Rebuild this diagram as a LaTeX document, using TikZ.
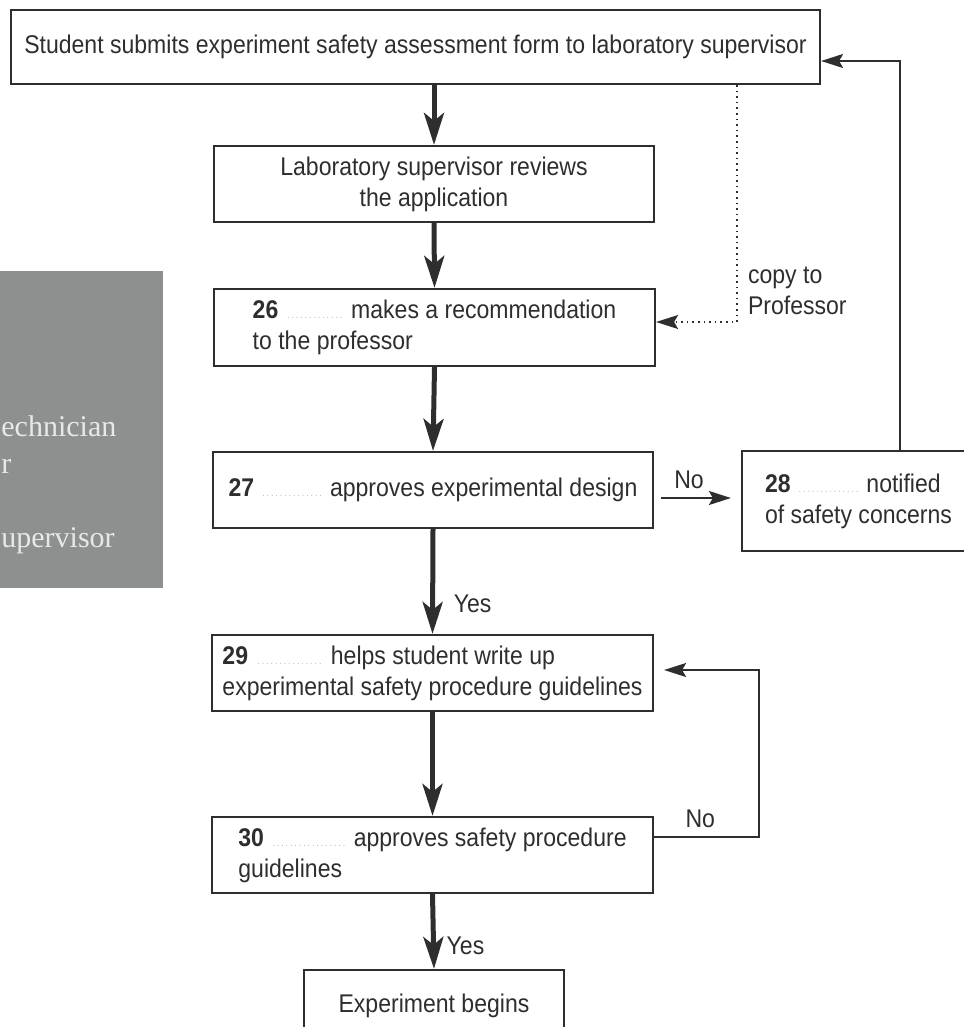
\documentclass[tikz,border=0pt]{standalone}
\usepackage{fontspec}
\setmainfont{Liberation Sans}[FakeStretch=0.9]
\newfontfamily\cutserif{Liberation Serif}
\usepackage{tikz}
\usetikzlibrary{arrows.meta, calc}
\definecolor{ink}{HTML}{2E2E2E}
\definecolor{panel}{HTML}{8E9090}
\definecolor{panelink}{HTML}{E8E8E8}
\definecolor{dotgray}{HTML}{B5B5B5}
\newcommand{\blank}[1]{\textcolor{dotgray}{\makebox[#1]{\tiny\dotfill}}}

\begin{document}
\begin{tikzpicture}[x=0.5pt, y=-0.5pt, ink,
    every node/.style={font=\fontsize{12.8}{15.5}\selectfont, text=ink},
    box/.style={draw, line width=1.1pt, minimum height=38pt, inner ysep=0pt},
    down/.style={line width=2.5pt, -{Stealth[length=16pt, width=10pt, inset=4pt]}},
    side/.style={line width=1pt, -{Stealth[length=11pt, width=7pt, inset=2pt]}},
    cutlabel/.style={anchor=base west, inner sep=0pt, text=panelink, font=\cutserif\fontsize{15}{18}\selectfont}]
    \useasboundingbox (0,0) rectangle (963,1027);

    \fill[panel] (0,271) rectangle (163,588);
    \node[cutlabel] (tech) at (1,436) {echnician};
    \node[cutlabel] (orr) at (1,473) {r};
    \node[cutlabel] (sup) at (1,547) {upervisor};

    \node[box, minimum width=404.5pt, minimum height=37pt] at (415.5,47) (submit) {Student submits experiment safety assessment form to laboratory supervisor};
    \node[box, minimum width=220pt, align=center] at (434,184) (review) {Laboratory supervisor reviews\\the application};
    \node[box, minimum width=220.5pt, minimum height=38.5pt, align=left] at (434.5,327.5) (recommend) {\textbf{26} \blank{30pt} makes a recommendation\\to the professor};
    \node[box, minimum width=220pt, align=left] at (433,490) (design) {\textbf{27} \blank{31.5pt} approves experimental design};
    \node[box, minimum width=116.5pt, minimum height=50pt, align=left] at (858.5,501) (notify) {\textbf{28} \blank{31.5pt} notified\\of safety concerns};
    \node[box, minimum width=220.5pt, align=left] at (432.5,673) (guide) {\textbf{29} \blank{35pt} helps student write up\\experimental safety procedure guidelines};
    \node[box, minimum width=220.5pt, align=left] at (432.5,855) (approve) {\textbf{30} \blank{38.5pt} approves safety procedure\\guidelines};
    \node[box, minimum width=130pt, minimum height=36pt] at (434,1006) (begin) {Experiment begins};

    \node[anchor=west, align=left] at (741,291) (copy) {copy to\\Professor};
    \coordinate (copyx) at (737,0);
    \coordinate (backx) at (900,0);

    \draw[down] (submit.south -| review.north) -- (review.north);
    \draw[down] (review.south) -- (recommend.north);
    \draw[down] (recommend.south) -- (design.north);
    \draw[down] (design.south) -- node[pos=0.71, right=6pt] {Yes} (guide.north);
    \draw[down] (guide.south) -- (approve.north);
    \draw[down] (approve.south) -- node[pos=0.69, right=2pt] {Yes} (begin.north);

    \draw[side] ($(design.east)+(7,8)$) -- node[above=1pt, pos=0.4] {No} ($(design.east -| notify.west)+(-10,8)$);
    \draw[side] (notify.north -| backx) |- ($(submit.east)+(0,14)$);
    \draw[side, line width=0.8pt, dotted] (submit.south -| copyx) |- ($(recommend.east)+(0,-5.5)$);
    \draw[side] ($(approve.east)+(0,-18)$) -- node[above=1pt, pos=0.44] {No} ++(105,0) |- ($(guide.east)+(10,-3)$);
\end{tikzpicture}
\end{document}
